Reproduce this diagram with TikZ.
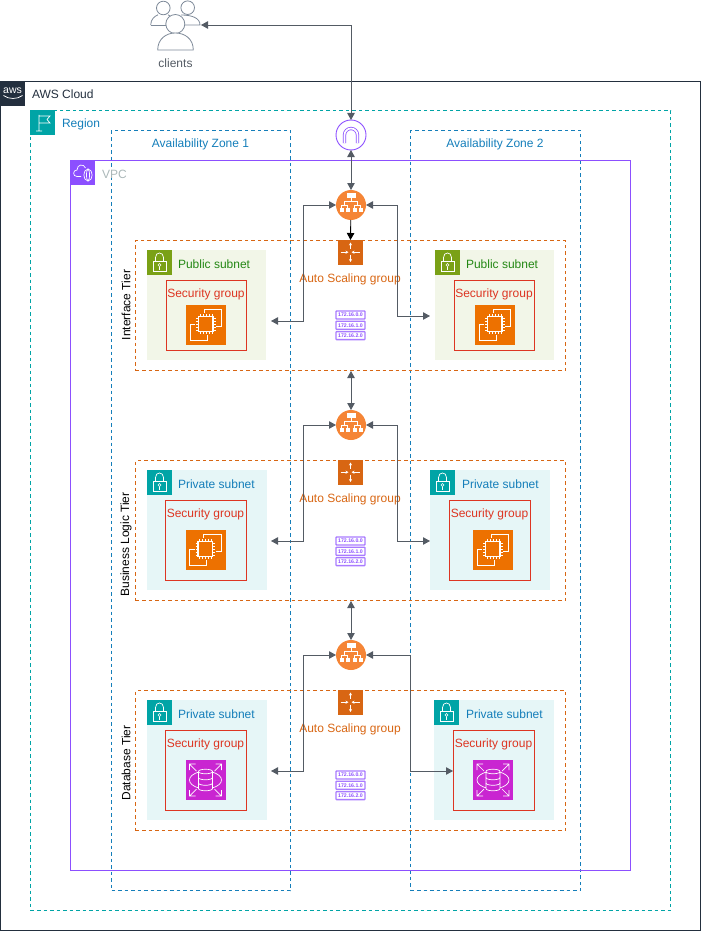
\documentclass[tikz,border=0pt]{standalone}
\usepackage{fontspec}
\setmainfont{Liberation Sans}
\usetikzlibrary{arrows.meta}
\definecolor{awsdark}{HTML}{232F3E}
\definecolor{regionteal}{HTML}{00A4A6}
\definecolor{azblue}{HTML}{147EBA}
\definecolor{vpcpurple}{HTML}{8C4FFF}
\definecolor{tierorange}{HTML}{D86613}
\definecolor{pubgreen}{HTML}{7AA116}
\definecolor{pubtext}{HTML}{248814}
\definecolor{pubfill}{HTML}{F2F6E8}
\definecolor{privfill}{HTML}{E6F6F7}
\definecolor{sgred}{HTML}{DD3522}
\definecolor{ec2orange}{HTML}{ED7100}
\definecolor{rdspink}{HTML}{C925D1}
\definecolor{albfill}{HTML}{F58536}
\definecolor{conngrey}{HTML}{545B64}
\definecolor{clientgrey}{HTML}{7D8998}
\definecolor{vpctext}{HTML}{AAB7B8}
\tikzset{
  every node/.style={inner sep=0pt,outer sep=0pt,font=\fontsize{12}{14}\selectfont},
  frame/.style={draw,anchor=north west,line width=.9pt,minimum width=#1},
  ht/.style={minimum height=#1},
  cloudbox/.style={frame=#1,draw=awsdark},
  regionbox/.style={frame=#1,draw=regionteal,dash pattern=on 3.5pt off 3pt},
  azbox/.style={frame=#1,draw=azblue,dash pattern=on 3.5pt off 3pt},
  vpcbox/.style={frame=#1,draw=vpcpurple},
  tierbox/.style={frame=#1,draw=tierorange,dash pattern=on 3.5pt off 3pt},
  pubbox/.style={anchor=north west,fill=pubfill,minimum width=#1},
  privbox/.style={anchor=north west,fill=privfill,minimum width=#1},
  sgbox/.style={frame=#1,draw=sgred},
  squareicon/.style={anchor=north west,minimum size=#1},
  toplabel/.style={anchor=west},
  tierlabel/.style={rotate=90,text=black},
  sglabel/.style={text=sgred},
  asglabel/.style={text=tierorange},
  conn/.style={draw=conngrey,line width=.9pt,{Triangle[length=7pt,width=7.5pt]}-{Triangle[length=7pt,width=7.5pt]}},
  blackconn/.style={draw=black,line width=.9pt,-{Triangle[length=7pt,width=7.5pt]}},
  wl/.style={draw=white,line width=.7pt},
  albcircle/.style={circle,fill=albfill,minimum size=30pt},
  igwcircle/.style={circle,draw=vpcpurple,fill=white,line width=.9pt,minimum size=30pt},
  aws/.pic={
    \node[text=white,font=\fontsize{10.5}{11}\selectfont] at (12.5,10) {aws};
    \draw[wl] (3.5,14.5) .. controls (9,18.5) and (17,18.5) .. (22.5,14.5);
  },
  flag/.pic={
    \draw[wl] (9,5) -- (9,21) (6,21) -- (12,21) (9,6) -- (20,6) -- (17,9.5) -- (20,13) -- (9,13);
  },
  cloudlock/.pic={
    \draw[wl] (11,16.5) -- (7,16.5) .. controls (2.5,16.5) and (2.5,10) .. (7,10) .. controls (7,4) and (14,3.5) .. (15.5,8);
    \draw[wl] (18,15) ellipse (4pt and 6pt);
    \draw[wl] (18,15) ellipse (1.5pt and 6pt);
  },
  lock/.pic={
    \draw[wl] (6,11) rectangle (19,21.7);
    \draw[wl] (8.5,11) -- (8.5,7.5) .. controls (8.5,1.5) and (16.5,1.5) .. (16.5,7.5) -- (16.5,11);
    \draw[wl,line width=.6pt] (12.5,15) circle (1.5pt);
    \draw[wl,line width=.6pt] (12.5,16.5) -- (12.5,19.5);
  },
  ec2/.pic={
    \draw[wl,line width=.9pt] (18.3,9) -- (18.3,4.3) -- (35.7,4.3) -- (35.7,21) -- (30,21);
    \draw[wl,line width=.9pt] (9.7,19.3) -- (4,19.3) -- (4,35) -- (21.3,35) -- (21.3,30);
    \fill[ec2orange] (9,8) rectangle (30,30);
    \draw[wl,line width=1.1pt] (12.5,11.5) rectangle (27,26.5);
    \foreach \p in {14,17,20,23,26}{
      \draw[wl,line width=.6pt] (\p,9) -- (\p,11.5) (\p,26.5) -- (\p,29);
    }
    \foreach \p in {13,16,19,22,25}{
      \draw[wl,line width=.6pt] (10,\p) -- (12.5,\p) (27,\p) -- (29.5,\p);
    }
  },
  rds/.pic={
    \draw[wl] (14,12) .. controls (7,13.5) and (4,17) .. (4,20) .. controls (4,23) and (7,26.5) .. (14,28);
    \draw[wl] (26,12) .. controls (33,13.5) and (36,17) .. (36,20) .. controls (36,23) and (33,26.5) .. (26,28);
    \draw[wl,fill=rdspink] (13,11.5) -- (13,28.5) .. controls (13,31.5) and (27,31.5) .. (27,28.5) -- (27,11.5) .. controls (27,8.5) and (13,8.5) .. (13,11.5) .. controls (13,14.5) and (27,14.5) .. (27,11.5);
    \draw[wl] (13,17.5) .. controls (13,20.5) and (27,20.5) .. (27,17.5);
    \draw[wl] (13,23) .. controls (13,26) and (27,26) .. (27,23);
    \draw[wl] (4,10) -- (4,4) -- (10,4) (4,4) -- (11,11);
    \draw[wl] (36,10) -- (36,4) -- (30,4) (36,4) -- (29,11);
    \draw[wl] (4,30) -- (4,36) -- (10,36) (4,36) -- (11,29);
    \draw[wl] (36,30) -- (36,36) -- (30,36) (36,36) -- (29,29);
  },
  asg/.pic={
    \tikzset{sa/.style={draw=white,line width=.7pt,-{Stealth[length=3pt,width=3.2pt]}}}
    \draw[sa] (12.5,9) -- (12.5,2.5);
    \draw[sa] (12.5,14.5) -- (12.5,22);
    \draw[sa] (2.5,12.2) -- (10.5,12.2);
    \draw[sa] (21.5,12.2) -- (13.5,12.2);
  },
  alb/.pic={
    \fill[white] (-4.5,-12) rectangle (4.5,-7);
    \draw[white,line width=.7pt] (0,-7) -- (0,-3.5) (-6.5,0) -- (-6.5,-3.5) -- (6.5,-3.5) -- (6.5,0)
      (-9.5,3) -- (-9.5,0) -- (-3.5,0) -- (-3.5,3) (3.5,3) -- (3.5,0) -- (9.5,0) -- (9.5,3);
    \foreach \p in {-11.5,-5.5,1.5,7.5}{\fill[white] (\p,3.2) rectangle (\p+4.6,7.4);}
  },
  igw/.pic={
    \draw[draw=vpcpurple,line width=.8pt,double=white,double distance=1.7pt,rounded corners=6.5pt] (-6.5,8) -- (-6.5,-6.5) -- (6.5,-6.5) -- (6.5,8);
  },
  iprow/.style={draw=vpcpurple!75,fill=white,line width=1.3pt,rounded corners=.6pt,minimum width=29pt,minimum height=8pt,text=vpcpurple,font=\bfseries\fontsize{5.2}{5.2}\selectfont,anchor=north west},
}
\newcommand{\ipblock}[3]{%
  \node[iprow] (#1a) at (#2,#3) {172.16.0.0};
  \node[iprow] (#1b) at (#2,#3+10.3) {172.16.1.0};
  \node[iprow] (#1c) at (#2,#3+20.6) {172.16.2.0};
}
\begin{document}
\begin{tikzpicture}[x=1pt,y=-1pt]
\useasboundingbox (0,0) rectangle (701,931);

% containers
\node[cloudbox=700pt,ht=849pt] (cloud) at (.5,81) {};
\node[regionbox=640pt,ht=800pt] (region) at (30.5,110.5) {};
\node[azbox=179pt,ht=760pt] (az1) at (111.5,130.5) {};
\node[azbox=170pt,ht=760pt] (az2) at (410.5,130.5) {};
\node[vpcbox=560pt,ht=710pt] (vpc) at (70.5,160.5) {};
\node[tierbox=430pt,ht=130pt] (tier1) at (135.5,240.5) {};
\node[tierbox=430pt,ht=140pt] (tier2) at (135.5,460.5) {};
\node[tierbox=430pt,ht=140pt] (tier3) at (135.5,690.5) {};

% header icons and labels
\node[squareicon=25pt,fill=awsdark] (awsicon) at (0,81) {};
\pic at (0,81) {aws};
\node[toplabel,text=awsdark] (cloudlabel) at (32,94) {AWS Cloud};
\node[squareicon=25pt,fill=regionteal] (regionicon) at (30,110) {};
\pic at (30,110) {flag};
\node[toplabel,text=azblue] (regionlabel) at (62,124.5) {Region};
\node[text=azblue] (az1label) at (200.5,144.5) {Availability Zone 1};
\node[text=azblue] (az2label) at (495,144.5) {Availability Zone 2};
\node[squareicon=25pt,fill=vpcpurple] (vpcicon) at (70,160) {};
\pic at (70,160) {cloudlock};
\node[toplabel,text=vpctext] (vpclabel) at (102,174.5) {VPC};

% tier labels
\node[tierlabel] (tl1) at (126,305) {Interface Tier};
\node[tierlabel] (tl2) at (126,544.5) {Business Logic Tier};
\node[tierlabel] (tl3) at (126,763) {Database Tier};

% subnets
\node[pubbox=119pt,ht=110pt] (s1l) at (147,250) {};
\node[pubbox=119pt,ht=110pt] (s1r) at (435,250) {};
\node[privbox=120pt,ht=120pt] (s2l) at (147,470) {};
\node[privbox=120pt,ht=120pt] (s2r) at (430,470) {};
\node[privbox=120pt,ht=120pt] (s3l) at (147,700) {};
\node[privbox=120pt,ht=120pt] (s3r) at (434,700) {};

\node[squareicon=25pt,fill=pubgreen] (l1l) at (147,250) {}; \pic at (147,250) {lock};
\node[squareicon=25pt,fill=pubgreen] (l1r) at (435,250) {}; \pic at (435,250) {lock};
\node[squareicon=25pt,fill=regionteal] (l2l) at (147,470) {}; \pic at (147,470) {lock};
\node[squareicon=25pt,fill=regionteal] (l2r) at (430,470) {}; \pic at (430,470) {lock};
\node[squareicon=25pt,fill=regionteal] (l3l) at (147,700) {}; \pic at (147,700) {lock};
\node[squareicon=25pt,fill=regionteal] (l3r) at (434,700) {}; \pic at (434,700) {lock};

\node[toplabel,text=pubtext] (n1l) at (178,264) {Public subnet};
\node[toplabel,text=pubtext] (n1r) at (466,264) {Public subnet};
\node[toplabel,text=azblue] (n2l) at (178,484) {Private subnet};
\node[toplabel,text=azblue] (n2r) at (462,484) {Private subnet};
\node[toplabel,text=azblue] (n3l) at (178,714) {Private subnet};
\node[toplabel,text=azblue] (n3r) at (466,714) {Private subnet};

% security groups
\node[sgbox=80pt,ht=70pt] (g1l) at (166,280.5) {};
\node[sgbox=80pt,ht=70pt] (g1r) at (454.5,280.5) {};
\node[sgbox=81pt,ht=80pt] (g2l) at (165.5,500.5) {};
\node[sgbox=81pt,ht=80pt] (g2r) at (449.5,500.5) {};
\node[sgbox=81pt,ht=80pt] (g3l) at (165.5,730.5) {};
\node[sgbox=81pt,ht=80pt] (g3r) at (453,730.5) {};
\node[sglabel] (t1l) at (206,294.5) {Security group};
\node[sglabel] (t1r) at (494,294.5) {Security group};
\node[sglabel] (t2l) at (205.5,514.5) {Security group};
\node[sglabel] (t2r) at (489.5,514.5) {Security group};
\node[sglabel] (t3l) at (205.5,744.5) {Security group};
\node[sglabel] (t3r) at (493.5,744.5) {Security group};

% compute and database icons
\node[squareicon=40pt,fill=ec2orange] (e1l) at (186,305) {}; \pic at (186,305) {ec2};
\node[squareicon=40pt,fill=ec2orange] (e1r) at (475,305) {}; \pic at (475,305) {ec2};
\node[squareicon=40pt,fill=ec2orange] (e2l) at (185.5,530) {}; \pic at (185.5,530) {ec2};
\node[squareicon=40pt,fill=ec2orange] (e2r) at (473,530) {}; \pic at (473,530) {ec2};
\node[squareicon=40pt,fill=rdspink] (d3l) at (185.5,760) {}; \pic at (185.5,760) {rds};
\node[squareicon=40pt,fill=rdspink] (d3r) at (473,760) {}; \pic at (473,760) {rds};

% auto scaling
\node[squareicon=25pt,fill=tierorange] (a1) at (338,240) {}; \pic at (338,240) {asg};
\node[squareicon=25pt,fill=tierorange] (a2) at (338,460) {}; \pic at (338,460) {asg};
\node[squareicon=25pt,fill=tierorange] (a3) at (338,690) {}; \pic at (338,690) {asg};
\node[asglabel] (al1) at (350,279.5) {Auto Scaling group};
\node[asglabel] (al2) at (350,499.5) {Auto Scaling group};
\node[asglabel] (al3) at (350,729.5) {Auto Scaling group};

% ip blocks
\ipblock{ipa}{336}{311}
\ipblock{ipb}{336}{537}
\ipblock{ipc}{336}{771}

% clients
\begin{scope}[draw=clientgrey,line width=.8pt]
  \draw (163.3,8) circle (6.8pt);
  \draw (187.7,7.7) circle (6.8pt);
  \draw (150.7,25) .. controls (150.7,19) and (155,16) .. (158,14.8);
  \draw (168,14.8) -- (170,16);
  \draw (150.7,25) -- (166,25);
  \draw (181,15) .. controls (192,15) and (200,18) .. (200,25) -- (185,25);
  \draw[fill=white] (175.3,24) circle (9.5pt);
  \draw[fill=white] (157.7,50) .. controls (157.7,39) and (166,33) .. (175.3,33) .. controls (185,33) and (193.3,39) .. (193.3,50) -- cycle;
\end{scope}
\node[minimum width=51pt,minimum height=50pt] (clients) at (175.5,25) {};
\node[text=conngrey] (clientlabel) at (175.5,63.5) {clients};

% gateways and load balancers
\node[igwcircle] (igw) at (351,135) {}; \pic at (351,135) {igw};
\node[albcircle] (alb1) at (351,205) {}; \pic at (351,205) {alb};
\node[albcircle] (alb2) at (351,425) {}; \pic at (351,425) {alb};
\node[albcircle] (alb3) at (351,655) {}; \pic at (351,655) {alb};

% free ends
\coordinate (igwtop) at (351,120);
\coordinate (t1b) at (351,371);
\coordinate (t2b) at (351,601);
\coordinate (e1le) at (271,321);
\coordinate (e1re) at (430,316);
\coordinate (e2le) at (271,541);
\coordinate (e2re) at (430,541);
\coordinate (e3le) at (271,771);
\coordinate (e3re) at (453,771);
\coordinate (c1l) at (303.5,205);
\coordinate (c1ld) at (303.5,321);
\coordinate (c1r) at (397,205);
\coordinate (c1rd) at (397,316);
\coordinate (c2l) at (303.5,425);
\coordinate (c2ld) at (303.5,541);
\coordinate (c2r) at (397,425);
\coordinate (c2rd) at (397,541);
\coordinate (c3l) at (303.5,655);
\coordinate (c3ld) at (303.5,771);
\coordinate (c3r) at (410,655);
\coordinate (c3rd) at (410,771);

% connectors
\draw[conn] (clients.east) -| (igwtop);
\draw[conn] (igw) -- (alb1);
\draw[blackconn] (alb1) -- (a1.north);
\draw[conn] (alb1.west) -- (c1l) -- (c1ld) -- (e1le);
\draw[conn] (alb1.east) -- (c1r) -- (c1rd) -- (e1re);
\draw[conn] (t1b) -- (alb2);
\draw[conn] (alb2.west) -- (c2l) -- (c2ld) -- (e2le);
\draw[conn] (alb2.east) -- (c2r) -- (c2rd) -- (e2re);
\draw[conn] (t2b) -- (alb3);
\draw[conn] (alb3.west) -- (c3l) -- (c3ld) -- (e3le);
\draw[conn] (alb3.east) -- (c3r) -- (c3rd) -- (e3re);
\end{tikzpicture}
\end{document}
